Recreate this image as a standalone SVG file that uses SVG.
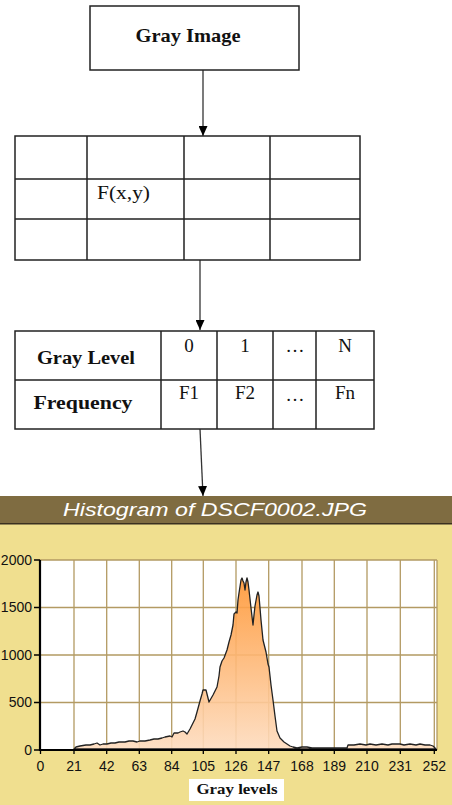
<svg xmlns="http://www.w3.org/2000/svg" width="452" height="805" viewBox="0 0 452 805">
<style>
.box{fill:#fff;stroke:#222;stroke-width:1.5}
.ln{stroke:#222;stroke-width:1.5;fill:none}
.bs{font-family:"Liberation Serif",serif;font-weight:bold;fill:#111}
.rs{font-family:"Liberation Serif",serif;fill:#111}
.conn{stroke:#333;stroke-width:1.3;fill:none;marker-end:url(#ah)}
.grid{stroke:#b39a63;stroke-width:1.3}
.ax{font-family:"Liberation Sans",Arial,sans-serif;font-size:14px;fill:#111}
</style>
<defs>
<marker id="ah" markerWidth="10" markerHeight="9" refX="10" refY="4.5" orient="auto" markerUnits="userSpaceOnUse" viewBox="0 0 10 9">
<path d="M0,0 L10,4.5 L0,9 Z" fill="#000"/>
</marker>
<linearGradient id="fg" gradientUnits="userSpaceOnUse" x1="0" y1="578" x2="0" y2="750">
<stop offset="0" stop-color="#ff9633"/>
<stop offset="1" stop-color="#fddcbf"/>
</linearGradient>
</defs>
<rect width="452" height="805" fill="#fff"/>

<g id="connectors">
<path class="conn" d="M203,70 L203,136"/>
<path class="conn" d="M200,260 L200,330"/>
<path class="conn" d="M200,429 L203,496"/>
</g>

<g id="gray-image">
<rect class="box" x="90" y="6" width="209" height="64"/>
<text class="bs" x="188" y="42" font-size="19" text-anchor="middle" textLength="105" lengthAdjust="spacingAndGlyphs">Gray Image</text>
</g>

<g id="pixel-table">
<rect class="box" x="15" y="136" width="345" height="124"/>
<path class="ln" d="M87,136V260M184,136V260M270,136V260M15,179H360M15,219H360"/>
<text class="rs" x="97" y="199" font-size="19" textLength="53" lengthAdjust="spacingAndGlyphs">F(x,y)</text>
</g>

<g id="freq-table">
<rect class="box" x="15" y="331" width="359" height="98"/>
<path class="ln" d="M161,331V429M217,331V429M273,331V429M316,331V429M15,380H374"/>
<text class="bs" x="86" y="364" font-size="18" text-anchor="middle" textLength="98" lengthAdjust="spacingAndGlyphs">Gray Level</text>
<text class="bs" x="83" y="409" font-size="18" text-anchor="middle" textLength="99" lengthAdjust="spacingAndGlyphs">Frequency</text>
<g class="rs" font-size="19" text-anchor="middle">
<text x="189" y="352">0</text>
<text x="245" y="352">1</text>
<text x="295" y="352">…</text>
<text x="345" y="352">N</text>
<text x="189" y="399">F1</text>
<text x="245" y="399">F2</text>
<text x="295" y="401">…</text>
<text x="345" y="399">Fn</text>
</g>
</g>

<g id="histogram">
<rect x="0" y="496" width="452" height="309" fill="#f0df8f"/>
<rect x="0" y="496" width="452" height="27" fill="#7f6c41"/>
<rect x="0" y="523" width="452" height="1.5" fill="#3a3020"/>
<text x="215" y="516" font-family="'Liberation Sans',Arial,sans-serif" font-style="italic" font-size="19" fill="#fff" text-anchor="middle" textLength="304" lengthAdjust="spacingAndGlyphs">Histogram of DSCF0002.JPG</text>
<rect x="40" y="560" width="397" height="190" fill="#fff"/>
<g class="grid">
<path d="M40,560H437M40,607.5H437M40,655H437M40,702.5H437M437,560V750"/>
<path d="M74,560V750M106.7,560V750M139.3,560V750M171.7,560V750M203.3,560V750M236,560V750M268.7,560V750M302,560V750M334.3,560V750M367,560V750M400.3,560V750M434.3,560V750"/>
</g>
<path d="M74,749 L76,747 L80,746 L86,745 L90,745 L94,744 L97,743 L100,745 L103,744 L107,744 L111,743 L115,743 L119,742 L125,742 L129,741 L133,741 L137,742 L140,741 L145,741 L150,740 L154,739 L158,739 L162,738 L165,737 L170,736 L172,737 L174,733 L178,733 L180,732 L183,731 L185,732 L187,734 L190,729 L192,725 L195,719 L197,712 L200,701 L202,694 L203,690 L206,690 L209,702 L213,695 L217,687 L219,676 L220,667 L222,661 L224,658 L227,650 L229,642 L231,635 L233,625 L234,614 L236,612 L237,613 L238,600 L239,593 L241,580 L242,578 L243,581 L244,583 L245,590 L246,582 L247,578 L248,582 L249,590 L251,608 L253,625 L254,615 L255,606 L257,595 L258,592 L259,596 L260,608 L261,620 L263,640 L266,652 L268,664 L269,667 L271,685 L273,700 L275,716 L277,731 L280,738 L284,742 L287,744 L290,746 L293,747 L297,748 L302,747 L307,747 L312,748 L320,748 L330,748 L340,748 L347,748 L348,745 L354,745 L360,744 L366,745 L370,744 L376,745 L382,744 L388,745 L392,744 L400,744 L404,745 L410,744 L416,745 L420,744 L425,745 L430,745 L433,746 L436,749 Z" fill="url(#fg)" fill-opacity="0.9" stroke="#222" stroke-width="1.3" stroke-linejoin="round"/>
<path d="M40,560V751M40,750H437" stroke="#000" stroke-width="2.2" fill="none"/>
<path d="M34,560H40M34,607.5H40M34,655H40M34,702.5H40M34,750H40" stroke="#000" stroke-width="1.5"/>
<path d="M40.5,750V754M74,750V754M106.7,750V754M139.3,750V754M171.7,750V754M203.3,750V754M236,750V754M268.7,750V754M302,750V754M334.3,750V754M367,750V754M400.3,750V754M434.3,750V754" stroke="#000" stroke-width="1.3"/>
<g class="ax" text-anchor="end">
<text x="32" y="565">2000</text>
<text x="32" y="612">1500</text>
<text x="32" y="660">1000</text>
<text x="32" y="707">500</text>
<text x="32" y="755">0</text>
</g>
<g class="ax" text-anchor="middle">
<text x="40.5" y="771">0</text>
<text x="74" y="771">21</text>
<text x="106.7" y="771">42</text>
<text x="139.3" y="771">63</text>
<text x="171.7" y="771">84</text>
<text x="203.3" y="771">105</text>
<text x="236" y="771">126</text>
<text x="268.7" y="771">147</text>
<text x="302" y="771">168</text>
<text x="334.3" y="771">189</text>
<text x="367" y="771">210</text>
<text x="400.3" y="771">231</text>
<text x="434.3" y="771">252</text>
</g>
<rect x="189" y="779" width="95" height="22" fill="#fff"/>
<text class="bs" x="237" y="794" font-size="15" text-anchor="middle" fill="#1a1a40" textLength="81" lengthAdjust="spacingAndGlyphs">Gray levels</text>
</g>
</svg>
